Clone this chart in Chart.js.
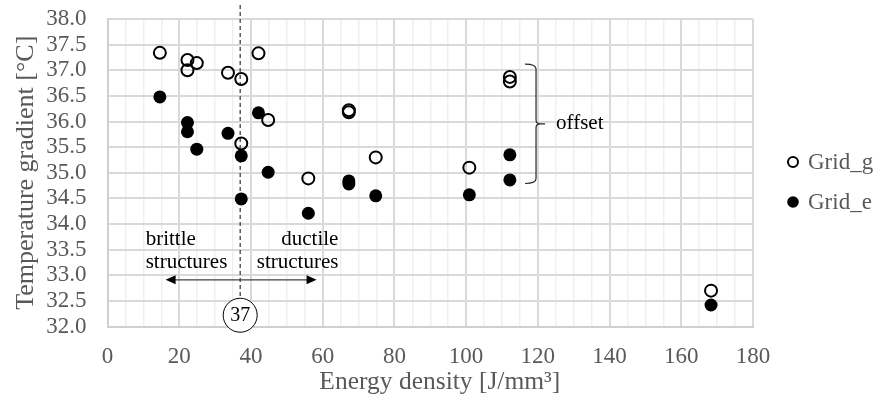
<!DOCTYPE html>
<html>
<head>
<meta charset="utf-8">
<script src="https://cdn.jsdelivr.net/npm/chart.js@4.4.1/dist/chart.umd.min.js"></script>
<style>
  html, body { margin: 0; padding: 0; background: #ffffff; }
  #wrap { width: 876px; height: 398px; position: relative; }
</style>
</head>
<body>
<div id="wrap"><canvas id="c" width="876" height="398"></canvas></div>
<script>
// ---- data ----
const seriesNames = ["Grid_g", "Grid_e"];
const energyDensity = [14.6, 22.3, 22.3, 24.9, 33.6, 37.3, 37.3, 42.1, 44.8, 56.0, 67.3, 67.3, 74.8, 100.9, 112.2, 112.2, 168.3];
const gridG = [37.34, 37.20, 37.00, 37.14, 36.95, 36.83, 35.57, 37.33, 36.03, 34.89, 36.22, 36.18, 35.30, 35.10, 36.87, 36.78, 32.70];
const gridE = [36.48, 35.98, 35.80, 35.46, 35.77, 35.33, 34.49, 36.17, 35.01, 34.21, 34.84, 34.78, 34.55, 34.57, 35.35, 34.86, 32.42];
const xTickValues = [0, 20, 40, 60, 80, 100, 120, 140, 160, 180];
const yTickValues = [32.0, 32.5, 33.0, 33.5, 34.0, 34.5, 35.0, 35.5, 36.0, 36.5, 37.0, 37.5, 38.0];
const thresholdEnergy = 37;
const arrowRange = [16.2, 58.3];
const arrowLevel = 32.91;
const labelLines = [33.70, 33.24];
const labelEdges = [10.65, 64.4];
const offsetBraceEnergy = 119.5;
const offsetBraceRange = [34.79, 37.12];

const FONT = "'Liberation Serif', 'Times New Roman', serif";
const GREY = '#595959';

function toPts(xs, ys) { return xs.map((x, i) => ({ x: x, y: ys[i] })); }

const annotPlugin = {
  id: 'annot',
  beforeDatasetsDraw(chart) {
    const ctx = chart.ctx, xs = chart.scales.x, ys = chart.scales.y;
    const x = xs.getPixelForValue(thresholdEnergy);
    const cy = ys.getPixelForValue(32.22);
    ctx.save();
    ctx.strokeStyle = '#404040';
    ctx.lineWidth = 1.3;
    ctx.setLineDash([4, 3]);
    ctx.beginPath();
    ctx.moveTo(x, 5);
    ctx.lineTo(x, cy - 17);
    ctx.stroke();
    ctx.restore();
  },
  afterDatasetsDraw(chart) {
    const ctx = chart.ctx, xs = chart.scales.x, ys = chart.scales.y;
    const x = xs.getPixelForValue(thresholdEnergy);
    ctx.save();
    // circle with 37
    const cy = ys.getPixelForValue(32.22);
    ctx.beginPath();
    ctx.arc(x, cy, 17, 0, Math.PI * 2);
    ctx.fillStyle = '#ffffff';
    ctx.fill();
    ctx.lineWidth = 1;
    ctx.strokeStyle = '#000000';
    ctx.stroke();
    ctx.fillStyle = '#000000';
    ctx.font = '20px ' + FONT;
    ctx.textAlign = 'center';
    ctx.textBaseline = 'middle';
    ctx.fillText(String(thresholdEnergy), x, cy + 1);

    // arrow
    const ay = ys.getPixelForValue(arrowLevel);
    const ax1 = xs.getPixelForValue(arrowRange[0]);
    const ax2 = xs.getPixelForValue(arrowRange[1]);
    ctx.strokeStyle = '#404040';
    ctx.lineWidth = 1.2;
    ctx.beginPath();
    ctx.moveTo(ax1 + 8, ay);
    ctx.lineTo(ax2 - 8, ay);
    ctx.stroke();
    ctx.fillStyle = '#000000';
    ctx.beginPath();
    ctx.moveTo(ax1, ay); ctx.lineTo(ax1 + 10, ay - 4.5); ctx.lineTo(ax1 + 10, ay + 4.5); ctx.closePath(); ctx.fill();
    ctx.beginPath();
    ctx.moveTo(ax2, ay); ctx.lineTo(ax2 - 10, ay - 4.5); ctx.lineTo(ax2 - 10, ay + 4.5); ctx.closePath(); ctx.fill();

    // texts
    ctx.font = '21px ' + FONT;
    ctx.textBaseline = 'middle';
    const tl = xs.getPixelForValue(labelEdges[0]);
    const tr = xs.getPixelForValue(labelEdges[1]);
    const y1 = ys.getPixelForValue(labelLines[0]);
    const y2 = ys.getPixelForValue(labelLines[1]);
    ctx.textAlign = 'left';
    ctx.fillText('brittle', tl, y1);
    ctx.fillText('structures', tl, y2);
    ctx.textAlign = 'right';
    ctx.fillText('ductile', tr, y1);
    ctx.fillText('structures', tr, y2);

    // brace
    const bx = xs.getPixelForValue(offsetBraceEnergy);
    const bt = ys.getPixelForValue(offsetBraceRange[1]);
    const bb = ys.getPixelForValue(offsetBraceRange[0]);
    const bm = (bt + bb) / 2;
    ctx.strokeStyle = '#262626';
    ctx.lineWidth = 1.2;
    ctx.beginPath();
    ctx.moveTo(bx - 11, bt);
    ctx.quadraticCurveTo(bx, bt, bx, bt + 5);
    ctx.lineTo(bx, bm - 4);
    ctx.quadraticCurveTo(bx, bm, bx + 4, bm);
    ctx.lineTo(bx + 9, bm);
    ctx.moveTo(bx + 4, bm);
    ctx.quadraticCurveTo(bx, bm, bx, bm + 4);
    ctx.lineTo(bx, bb - 5);
    ctx.quadraticCurveTo(bx, bb, bx - 11, bb);
    ctx.stroke();
    ctx.fillStyle = '#000000';
    ctx.textAlign = 'left';
    ctx.textBaseline = 'middle';
    ctx.fillText('offset', bx + 20, bm);
    ctx.restore();
  },
  afterDraw(chart) {
    // legend
    const ctx = chart.ctx;
    ctx.save();
    const lx = 793;
    const rows = [162, 202];
    chart.data.datasets.forEach((ds, i) => {
      const y = rows[i];
      ctx.beginPath();
      if (i === 0) {
        ctx.arc(lx, y, 5, 0, Math.PI * 2);
        ctx.lineWidth = 2;
        ctx.strokeStyle = '#000';
        ctx.stroke();
      } else {
        ctx.fillStyle = '#000';
        ctx.arc(lx, y, 5.8, 0, Math.PI * 2);
        ctx.fill();
      }
      ctx.fillStyle = GREY;
      ctx.font = '23px ' + FONT;
      ctx.textAlign = 'left';
      ctx.textBaseline = 'middle';
      ctx.fillText(ds.label, lx + 15, y + 1);
    });
    ctx.restore();
  }
};

new Chart(document.getElementById('c'), {
  type: 'scatter',
  data: {
    datasets: [
      {
        label: seriesNames[0],
        data: toPts(energyDensity, gridG),
        pointStyle: 'circle',
        pointRadius: 6,
        pointHoverRadius: 6,
        pointBorderWidth: 2,
        borderColor: '#000000',
        backgroundColor: 'rgba(0,0,0,0)'
      },
      {
        label: seriesNames[1],
        data: toPts(energyDensity, gridE),
        pointStyle: 'circle',
        pointRadius: 6.5,
        pointHoverRadius: 6.5,
        pointBorderWidth: 0,
        borderColor: '#000000',
        backgroundColor: '#000000'
      }
    ]
  },
  options: {
    responsive: false,
    animation: false,
    events: [],
    layout: { padding: { left: 0, right: 123, top: 19, bottom: 0 } },
    plugins: { legend: { display: false }, tooltip: { enabled: false } },
    scales: {
      x: {
        type: 'linear',
        min: 0, max: 180,
        afterBuildTicks(scale) {
          const t = [];
          for (let v = 0; v <= 180; v += 5) t.push({ value: v });
          scale.ticks = t;
        },
        afterFit(scale) { scale.height = 71.5; },
        ticks: {
          autoSkip: false,
          maxRotation: 0,
          padding: 17,
          color: GREY,
          font: { family: FONT, size: 23 },
          callback: (v) => xTickValues.includes(v) ? String(v) : ''
        },
        grid: {
          drawTicks: false,
          color: (c) => (c.tick && xTickValues.includes(c.tick.value)) ? '#d9d9d9' : '#efefef',
          lineWidth: (c) => (c.tick && xTickValues.includes(c.tick.value)) ? 2 : 1.5
        },
        border: { color: '#d0d0d0', width: 2 },
        title: {
          display: true,
          text: '   Energy density [J/mm³]',
          color: GREY,
          font: { family: FONT, size: 25.5 },
          padding: { top: 0, bottom: 0 }
        }
      },
      y: {
        type: 'linear',
        min: 32, max: 38,
        afterBuildTicks(scale) { scale.ticks = yTickValues.map(v => ({ value: v })); },
        afterFit(scale) { scale.width = 107.5; scale.paddingTop = 0; scale.paddingBottom = 0; },
        ticks: {
          autoSkip: false,
          padding: 21,
          color: GREY,
          font: { family: FONT, size: 23 },
          callback: (v) => Number(v).toFixed(1)
        },
        grid: { drawTicks: false, color: '#d9d9d9', lineWidth: 2 },
        border: { color: '#d0d0d0', width: 2 },
        title: {
          display: true,
          text: 'Temperature gradient [°C]',
          color: GREY,
          font: { family: FONT, size: 26 },
          padding: { top: 11, bottom: 0 }
        }
      }
    }
  },
  plugins: [annotPlugin]
});
</script>
</body>
</html>
